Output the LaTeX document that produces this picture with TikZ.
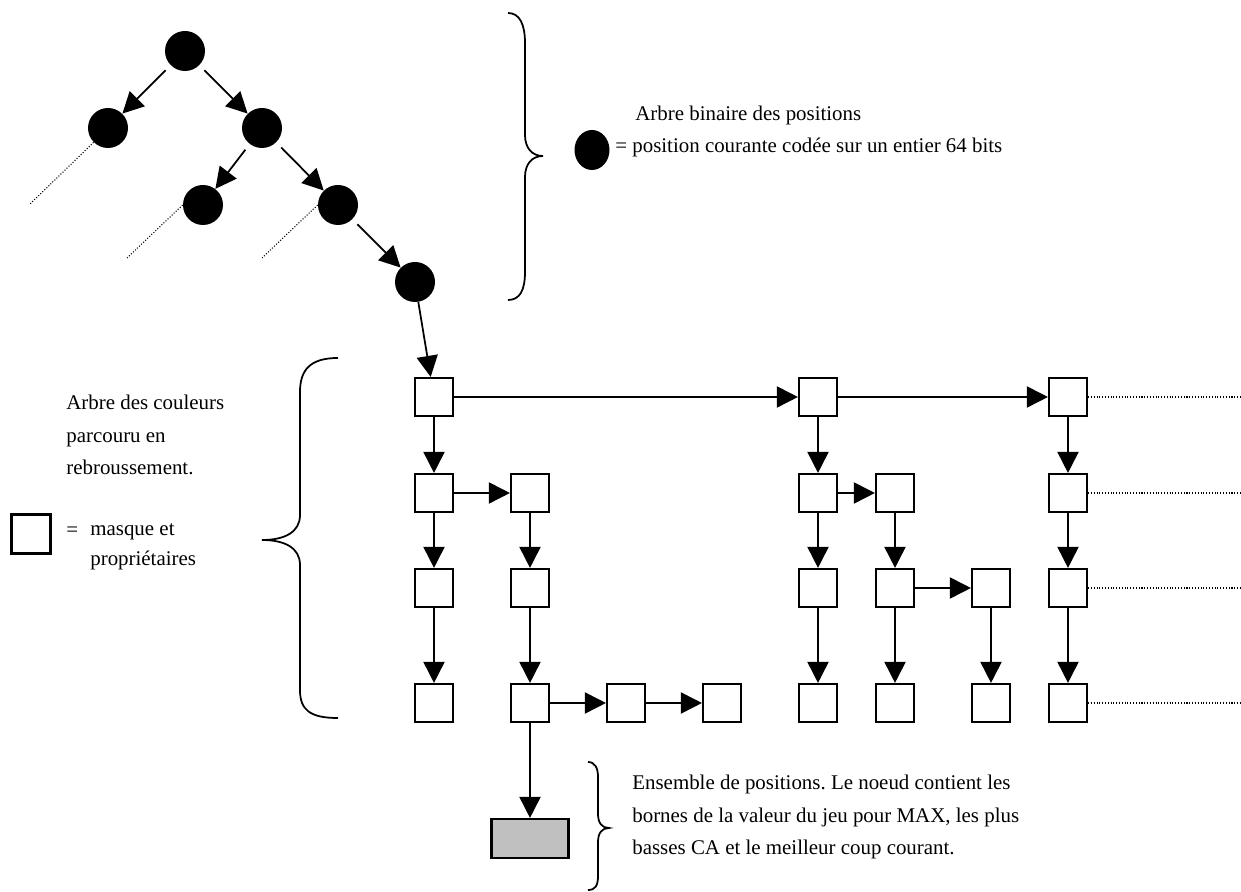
\documentclass[tikz,border=0pt]{standalone}
\usepackage{fontspec}
\setmainfont{Liberation Serif}
\usepackage{tikz}
\usetikzlibrary{shapes.geometric, positioning, arrows.meta}
\definecolor{EnsGray}{RGB}{192,192,192}

\begin{document}
\begin{tikzpicture}[
          sq/.style={rectangle, draw, line width=1.2pt, minimum size=0.76cm,
                     inner sep=0pt},
          posn/.style={circle, fill=black, minimum size=0.8cm, inner sep=0pt},
          arr/.style={-{Triangle[length=12pt, width=12pt]}, line width=1pt},
          trail/.style={densely dotted, line width=0.6pt},
          txt/.style={font=\fontsize{11.9}{18.4}\selectfont\frenchspacing,
                      align=left, inner sep=0pt}
        ]
        \useasboundingbox (0,0) rectangle (24.82,17.84);

        % Arbre binaire des positions
        \node[posn] (root) at (3.70, 16.82) {};
        \node[posn] (pl)   at (2.16, 15.28) {};
        \node[posn] (pr)   at (5.24, 15.28) {};
        \node[posn] (prl)  at (4.06, 13.74) {};
        \node[posn] (prr)  at (6.76, 13.74) {};
        \node[posn] (prrr) at (8.30, 12.20) {};

        \draw[arr, shorten <=4pt] (root) -- (pl);
        \draw[arr, shorten <=4pt] (root) -- (pr);
        \draw[arr, shorten <=4pt] (pr) -- (prl);
        \draw[arr, shorten <=4pt] (pr) -- (prr);
        \draw[arr, shorten <=4pt] (prr) -- (prrr);

        \coordinate (el)  at (0.60, 13.76);
        \coordinate (erl) at (2.54, 12.68);
        \coordinate (err) at (5.24, 12.68);
        \draw[trail] (pl.south west) -- (el);
        \draw[trail] (prl.west) -- (erl);
        \draw[trail] (prr.west) -- (err);

        % Legende du haut
        \draw[line width=1pt]
              (10.16,17.58) .. controls (10.40,17.58) and (10.50,17.34) .. (10.50,16.98)
              -- (10.50,15.14) .. controls (10.50,14.88) and (10.64,14.72) .. (10.86,14.72)
              .. controls (10.64,14.72) and (10.50,14.56) .. (10.50,14.30)
              -- (10.50,12.40) .. controls (10.50,12.04) and (10.40,11.84) .. (10.16,11.84);
        \node[ellipse, fill=black, minimum width=0.70cm, minimum height=0.80cm,
              inner sep=0pt] (leg) at (11.84, 14.84) {};
        \node[txt, anchor=west] (t1) at (12.70, 15.54)
              {Arbre binaire des positions};
        \node[txt, anchor=west] (t2) at (12.30, 14.90)
              {= position courante codée sur un entier 64 bits};

        % Arbre des couleurs
        \node[sq] (a1) at (8.68, 9.90) {};
        \node[sq] (a2) at (8.68, 7.98) {};
        \node[sq] (a3) at (8.68, 6.08) {};
        \node[sq] (a4) at (8.68, 3.78) {};
        \node[sq] (b2) at (10.60, 7.98) {};
        \node[sq] (b3) at (10.60, 6.08) {};
        \node[sq] (b4) at (10.60, 3.78) {};
        \node[sq] (b5) at (12.52, 3.78) {};
        \node[sq] (b6) at (14.44, 3.78) {};
        \node[sq] (c1) at (16.36, 9.90) {};
        \node[sq] (c2) at (16.36, 7.98) {};
        \node[sq] (c3) at (16.36, 6.08) {};
        \node[sq] (c4) at (16.36, 3.78) {};
        \node[sq] (c5) at (17.90, 7.98) {};
        \node[sq] (c6) at (17.90, 6.08) {};
        \node[sq] (c7) at (17.90, 3.78) {};
        \node[sq] (c8) at (19.82, 6.08) {};
        \node[sq] (c9) at (19.82, 3.78) {};
        \node[sq] (d1) at (21.36, 9.90) {};
        \node[sq] (d2) at (21.36, 7.98) {};
        \node[sq] (d3) at (21.36, 6.08) {};
        \node[sq] (d4) at (21.36, 3.78) {};

        \draw[arr] (prrr) -- (a1);
        \draw[arr] (a1) -- (c1);
        \draw[arr] (c1) -- (d1);
        \draw[arr] (a1) -- (a2);
        \draw[arr] (a2) -- (a3);
        \draw[arr] (a3) -- (a4);
        \draw[arr] (a2) -- (b2);
        \draw[arr] (b2) -- (b3);
        \draw[arr] (b3) -- (b4);
        \draw[arr] (b4) -- (b5);
        \draw[arr] (b5) -- (b6);
        \draw[arr] (c1) -- (c2);
        \draw[arr] (c2) -- (c3);
        \draw[arr] (c3) -- (c4);
        \draw[arr] (c2) -- (c5);
        \draw[arr] (c5) -- (c6);
        \draw[arr] (c6) -- (c7);
        \draw[arr] (c6) -- (c8);
        \draw[arr] (c8) -- (c9);
        \draw[arr] (d1) -- (d2);
        \draw[arr] (d2) -- (d3);
        \draw[arr] (d3) -- (d4);

        \coordinate (f1) at (24.82, 9.90);
        \coordinate (f2) at (24.82, 7.98);
        \coordinate (f3) at (24.82, 6.08);
        \coordinate (f4) at (24.82, 3.78);
        \draw[trail] (d1) -- (f1);
        \draw[trail] (d2) -- (f2);
        \draw[trail] (d3) -- (f3);
        \draw[trail] (d4) -- (f4);

        % Legende de gauche
        \draw[line width=1pt]
              (6.76,10.68) .. controls (6.20,10.68) and (6.00,10.44) .. (6.00,10.00)
              -- (6.00,7.54) .. controls (6.00,7.20) and (5.70,7.04) .. (5.24,7.04)
              .. controls (5.70,7.04) and (6.00,6.88) .. (6.00,6.54)
              -- (6.00,4.04) .. controls (6.00,3.64) and (6.20,3.48) .. (6.76,3.48);
        \node[txt, anchor=west] (t3) at (1.32, 9.14)
              {Arbre des couleurs\\parcouru en\\rebroussement.};
        \node[sq, minimum size=0.78cm] (legsq) at (0.62, 7.16) {};
        \node[txt, anchor=west] (t4) at (1.32, 7.20) {=};
        \node[txt, anchor=west] (t5) at (1.80, 6.90)
              {masque et\\[-1.5pt]propriétaires};

        % Ensemble de positions
        \node[sq, fill=EnsGray, minimum width=1.54cm, minimum height=0.78cm]
              (ens) at (10.60, 1.07) {};
        \draw[arr] (b4) -- (ens);
        \draw[line width=1pt]
              (11.76,2.60) .. controls (11.90,2.60) and (11.96,2.48) .. (11.96,2.30)
              -- (11.96,1.56) .. controls (11.96,1.38) and (12.04,1.28) .. (12.18,1.28)
              .. controls (12.04,1.28) and (11.96,1.18) .. (11.96,1.00)
              -- (11.96,0.32) .. controls (11.96,0.12) and (11.90,0.04) .. (11.76,0.04);
        \node[txt, anchor=west] (t6) at (12.64, 1.50)
              {Ensemble de positions. Le noeud contient les\\
               bornes de la valeur du jeu pour MAX, les plus\\
               basses CA et le meilleur coup courant.};
      \end{tikzpicture}
\end{document}
